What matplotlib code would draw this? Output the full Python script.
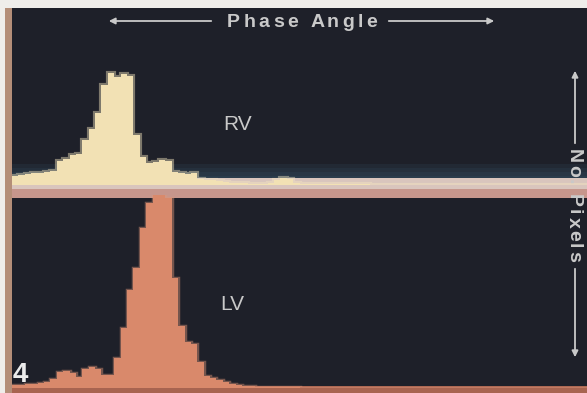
import matplotlib.pyplot as plt
from matplotlib.patches import Rectangle, FancyArrowPatch
import numpy as np

# phase histogram, 4 degree bins over 0-360
bin_width = 4
phase_edges = np.arange(0, 360 + bin_width, bin_width)

rv_counts = [9, 10, 11, 12, 12, 13, 14, 24, 26, 30, 31, 45, 56, 72, 100,
             112, 108, 111, 109, 50, 28, 22, 23, 25, 24, 13, 12, 11, 12, 6,
             5, 5, 4, 3, 2, 2, 2, 1, 1, 1, 2, 5, 7, 6, 2,
             1, 1, 1, 1, 1, 1, 1, 1, 1, 1, 1, 0, 0, 0, 0,
             0, 0, 0, 0, 0, 0, 0, 0, 0, 0, 0, 0, 0, 0, 0,
             0, 0, 0, 0, 0, 0, 0, 0, 0, 0, 0, 0, 0, 0, 0]
lv_counts = [3, 3, 4, 4, 5, 6, 9, 16, 17, 15, 11, 19, 21, 19, 13,
             13, 30, 60, 98, 120, 160, 185, 193, 193, 190, 110, 62, 46, 44, 26,
             12, 10, 8, 6, 4, 3, 2, 2, 1, 1, 1, 1, 1, 1, 1,
             0, 0, 0, 0, 0, 0, 0, 0, 0, 0, 0, 0, 0, 0, 0,
             0, 0, 0, 0, 0, 0, 0, 0, 0, 0, 0, 0, 0, 0, 0,
             0, 0, 0, 0, 0, 0, 0, 0, 0, 0, 0, 0, 0, 0, 0]

W, H = 587, 393
TEXT = '#c9c9c9'
SCREEN = '#1e2029'


def fx(x):
    return x / W


def fy(y):
    return 1 - y / H


fig = plt.figure(figsize=(5.87, 3.93), dpi=100, facecolor='#efedea')

# screen, frame edges and the divider band
def rect(x0, y0, x1, y1, color, z, alpha=1.0):
    fig.add_artist(Rectangle((fx(x0), fy(y1)), fx(x1) - fx(x0), fy(y0) - fy(y1),
                             transform=fig.transFigure, color=color,
                             zorder=z, alpha=alpha, lw=0))


rect(12, 8, W, H, SCREEN, -5)
rect(5, 8, 12, H, '#b48e78', -5)
for k in range(4):
    rect(12, 164 + k * 4, W, 179, '#3d6680', -4, alpha=0.13)
rect(12, 178, W, 198, '#c6968c', -3)
rect(12, 178, W, 189, '#d9c5bd', -3)
rect(12, 386, W, H, '#a86450', -3)

ax_rv = fig.add_axes([fx(12), fy(185), 1 - fx(12), (185 - 8) / H])
ax_lv = fig.add_axes([fx(12), fy(388), 1 - fx(12), (388 - 195) / H])

ax_rv.stairs(rv_counts, phase_edges, color='#f4e6c0', lw=3, alpha=0.45)
ax_rv.stairs(rv_counts, phase_edges, fill=True, color='#f2e1b4')
ax_rv.set_ylim(0, 177)

ax_lv.stairs(lv_counts, phase_edges, color='#e0977a', lw=2.5, alpha=0.45)
ax_lv.stairs(lv_counts, phase_edges, fill=True, color='#d9896b')
ax_lv.set_ylim(0, 193)

for ax in (ax_rv, ax_lv):
    ax.set_xlim(0, 360)
    ax.set_facecolor('none')
    ax.axis('off')

props = dict(fontsize=14, fontfamily='Liberation Sans', fontweight='bold', color=TEXT)
renderer = fig.canvas.get_renderer()


def text_width(s):
    t = fig.text(0, 0, s, **props)
    w = t.get_window_extent(renderer).width
    t.remove()
    return w


def tracked_text(s, center, base, track, vertical=False):
    wI = text_width('I')
    offs = [0.0] + [text_width(s[:i] + 'I') - wI + i * track for i in range(1, len(s))]
    total = text_width(s) + (len(s) - 1) * track
    for ch, o in zip(s, offs):
        if ch == ' ':
            continue
        d = o - total / 2
        if vertical:
            fig.text(fx(base), fy(center + d), ch, rotation=-90, rotation_mode='anchor',
                     ha='left', va='baseline', **props)
        else:
            fig.text(fx(center + d), fy(base), ch, ha='left', va='baseline', **props)


tracked_text('Phase Angle', 302, 27, 3.4)
tracked_text('No. Pixels', 205, 569, 2.2, vertical=True)


def arrow(p0, p1):
    fig.add_artist(FancyArrowPatch((fx(p0[0]), fy(p0[1])), (fx(p1[0]), fy(p1[1])),
                                   transform=fig.transFigure, arrowstyle='-|>',
                                   mutation_scale=9, color=TEXT, lw=1.3))


arrow((214, 21), (106, 21))
arrow((386, 21), (497, 21))
arrow((575, 146), (575, 68))
arrow((575, 266), (575, 360))

fig.text(fx(238), fy(124), 'RV', ha='center', va='center', fontsize=15,
         fontfamily='Liberation Sans', color=TEXT)
fig.text(fx(232), fy(305), 'LV', ha='center', va='center', fontsize=15,
         fontfamily='Liberation Sans', color=TEXT)
fig.text(fx(13), fy(382), '4', ha='left', va='baseline', fontsize=20,
         fontfamily='Liberation Sans', fontweight='bold', color='#ececec')

fig.savefig('out.png', dpi=100)
